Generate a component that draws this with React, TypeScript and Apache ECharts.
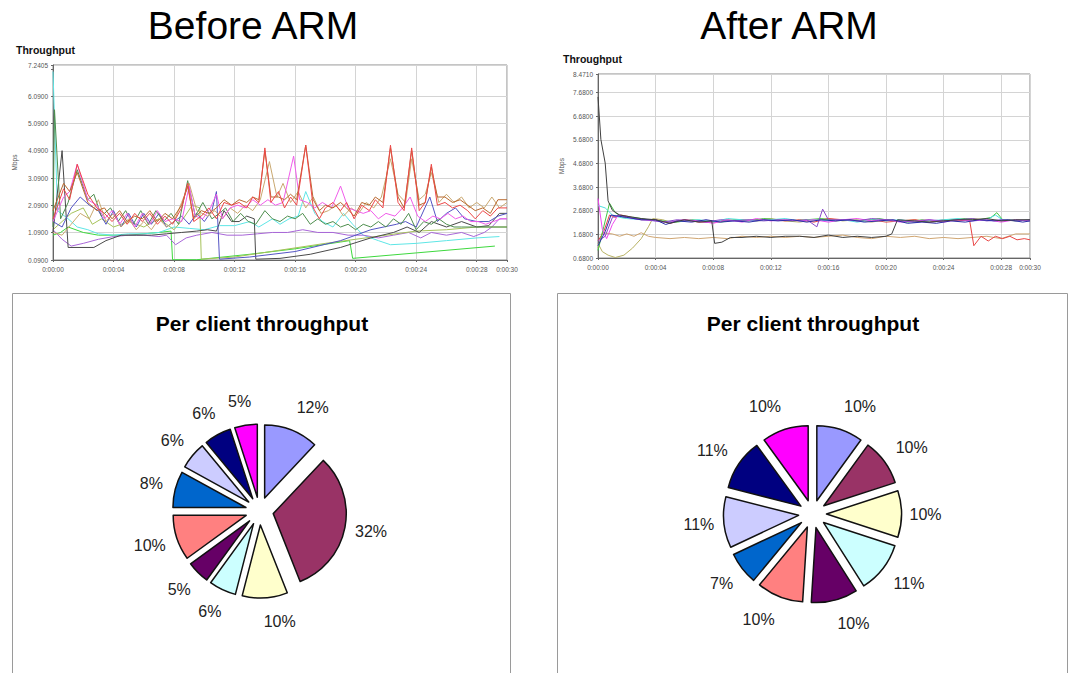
import React, { useEffect, useRef } from "react";
import * as echarts from "echarts";

// ---------- tick labels ----------
const X_TICKS_LABEL = (v: number) => `0:00:${String(Math.round(v)).padStart(2, "0")}`;
const LEFT_Y_BASE = 0.09;
const LEFT_Y_TOP = 7.2405;
const RIGHT_Y_BASE = 0.68;
const RIGHT_Y_TOP = 8.471;

// ---------- Before ARM (time s, Mbps) ----------
const L_RED = [[0,1.6],[0.7,2.7],[1.1,2.3],[1.6,3.6],[2.3,2.5],[2.9,2.0],[3.4,1.8],[3.9,1.5],[4.4,1.8],[4.9,1.4],[5.4,1.8],[5.9,1.5],[6.4,1.8],[6.9,1.4],[7.4,1.7],[7.9,1.4],[8.5,2.0],[8.9,2.9],[9.3,1.5],[9.8,1.7],[10.3,2.0],[10.8,1.6],[11.3,2.2],[11.8,2.1],[12.3,2.2],[12.8,2.0],[13.2,2.4],[13.6,2.2],[14.0,4.2],[14.4,2.2],[14.9,2.6],[15.3,2.0],[15.7,2.4],[16.1,2.1],[16.7,4.3],[17.2,2.0],[17.6,1.6],[18.0,2.0],[18.5,2.2],[19.0,1.9],[19.4,2.2],[19.9,1.6],[20.4,2.1],[20.9,1.9],[21.3,2.3],[21.8,2.0],[22.3,4.3],[22.8,2.2],[23.2,1.9],[23.7,4.2],[24.2,1.9],[24.6,2.2],[25.0,3.6],[25.4,2.1],[25.9,2.2],[26.4,2.0],[26.9,2.1],[27.4,1.9],[27.9,1.6],[28.4,1.9],[28.9,1.7],[29.4,2.0],[30,2.0]];
const L_BROWN = [[0,1.9],[0.7,2.9],[1.1,2.6],[1.6,3.3],[2.3,2.2],[2.9,1.9],[3.4,2.0],[3.9,1.6],[4.4,1.9],[4.9,1.5],[5.4,1.7],[5.9,1.6],[6.4,1.9],[6.9,1.5],[7.4,1.8],[7.9,1.6],[8.5,2.1],[8.9,2.8],[9.3,1.6],[9.8,1.9],[10.3,1.8],[10.8,2.0],[11.3,2.3],[11.8,2.1],[12.3,2.3],[12.8,2.2],[13.2,2.4],[13.6,2.3],[14.0,4.1],[14.4,2.4],[14.9,2.4],[15.3,2.3],[15.7,2.5],[16.1,2.3],[16.7,4.3],[17.2,2.3],[17.6,1.9],[18.0,2.1],[18.5,2.0],[19.0,2.2],[19.4,2.0],[19.9,1.7],[20.4,2.2],[20.9,2.1],[21.3,2.4],[21.8,2.2],[22.3,4.2],[22.8,2.4],[23.2,2.0],[23.7,4.1],[24.2,2.1],[24.6,2.2],[25.0,3.5],[25.4,2.4],[25.9,2.4],[26.4,2.2],[26.9,2.3],[27.4,2.1],[27.9,1.9],[28.4,2.0],[28.9,1.8],[29.4,2.3],[30,2.3]];
const L_MAGENTA = [[0,1.5],[0.7,2.4],[1.1,2.6],[1.6,3.6],[2.3,2.3],[2.9,2.1],[3.4,1.6],[3.9,1.9],[4.4,1.4],[4.9,1.8],[5.4,1.3],[5.9,1.8],[6.4,1.4],[6.9,1.9],[7.4,1.5],[7.9,1.6],[8.5,1.5],[9.0,2.8],[9.4,1.7],[9.9,1.6],[10.4,2.0],[10.8,2.5],[11.2,1.6],[11.7,2.0],[12.2,2.1],[12.7,2.0],[13.2,2.3],[13.7,2.1],[14.2,2.3],[14.7,2.1],[15.2,2.2],[15.9,3.9],[16.3,2.3],[16.8,2.2],[17.3,2.0],[17.8,2.2],[18.4,2.0],[19.0,2.8],[19.5,2.0],[20.0,1.9],[20.5,1.8],[21.0,1.9],[21.5,1.6],[22.0,1.8],[22.6,1.7],[23.1,2.0],[23.6,2.4],[24.1,1.7],[24.6,1.5],[25.1,1.7],[25.6,1.6],[26.1,1.8],[26.6,1.6],[27.1,1.7],[27.6,1.5],[28.1,1.5],[28.6,1.4],[29.1,1.5],[29.6,1.6],[30,1.6]];
const L_TAN = [[0,1.1],[0.6,1.0],[1.2,1.4],[1.8,1.8],[2.4,1.6],[3.0,2.3],[3.5,1.5],[4.0,1.8],[4.5,1.3],[5.0,1.6],[5.5,1.2],[6.0,1.5],[6.5,1.2],[7.0,1.6],[7.5,1.3],[8.0,1.5],[8.5,2.2],[9.0,2.9],[9.5,1.9],[10.2,1.7],[10.7,1.9],[11.2,1.6],[11.7,2.0],[12.2,1.8],[12.7,2.1],[13.2,1.9],[13.7,2.3],[14.3,3.7],[14.8,2.4],[15.2,2.9],[15.7,2.2],[16.2,2.6],[16.7,2.0],[17.2,2.4],[17.7,1.8],[18.2,1.9],[18.7,2.1],[19.2,1.7],[19.7,2.0],[20.2,1.8],[20.7,2.2],[21.2,2.0],[21.7,2.4],[22.3,3.8],[22.8,2.5],[23.3,2.2],[23.7,3.8],[24.2,2.3],[24.6,2.5],[25.0,3.3],[25.5,2.2],[26.0,2.5],[26.5,2.2],[27.0,2.4],[27.5,2.0],[28.0,2.2],[28.5,2.0],[29.0,2.4],[29.5,2.0],[30,2.2]];
const L_LIME = [[0,1.2],[0.6,1.5],[1.2,1.8],[2,2.0],[2.6,1.4],[3.2,1.6],[4,1.3],[5,1.5],[6,1.3],[7,1.6],[8,1.2],[8.6,1.6],[9.2,2.1],[9.7,2.0],[9.8,0.12],[12,0.2],[15,0.45],[18,0.7],[20,0.85],[22,1.0],[24,1.15],[26,1.2],[28,1.3],[30,1.3]];
const L_OLIVE = [[0,1.3],[0.1,5.6],[0.5,1.6],[1.0,2.2],[1.6,3.4],[2.3,2.3],[2.7,2.5],[3.2,1.7],[3.8,2.0],[4.3,1.5],[4.8,1.9],[5.3,1.4],[5.8,1.9],[6.3,1.4],[6.8,1.9],[7.3,1.5],[7.8,1.8],[8.3,1.4],[8.9,3.0],[9.4,1.7],[9.9,2.2],[10.5,1.6],[11.0,1.8],[11.4,2.0],[11.9,1.5],[12.4,1.8],[12.9,1.5],[13.4,1.4],[14.0,1.9],[14.5,1.6],[15.0,1.5],[15.5,1.7],[16.0,1.6],[16.5,1.8],[17.0,1.4],[17.5,1.6],[18.0,1.4],[18.5,1.5],[19.0,1.3],[19.5,1.4],[20.0,1.2],[20.5,1.4],[21,1.3],[21.5,1.5],[22,1.3],[22.5,1.6],[23,1.4],[23.5,1.8],[24,1.2],[24.5,1.5],[25,1.4],[25.5,1.6],[26,1.4],[26.5,1.3],[27,1.3],[28,1.3],[29,1.3],[30,1.3]];
const L_DKGRAY = [[0,1.1],[0.6,4.1],[1.0,0.55],[2.7,0.55],[3.5,0.8],[4.5,1.0],[5.5,1.0],[6.5,1.0],[7.5,1.05],[8.5,1.1],[9.5,1.15],[10.2,1.2],[10.8,1.15],[11.3,1.9],[11.8,1.5],[12.3,1.5],[12.8,1.7],[13.3,1.6],[13.4,0.12],[15,0.15],[17,0.3],[19,0.55],[21,0.9],[22.5,1.1],[23.4,1.3],[24.2,1.1],[25,1.5],[26,1.3],[27,1.5],[28,1.3],[28.8,1.35],[29.5,1.8],[30,1.8]];
const L_PURPLE = [[0,1.2],[0.6,0.85],[1.2,0.6],[2,0.7],[3,0.85],[4,0.95],[5,1.0],[6,1.0],[7,0.95],[7.5,1.0],[8.1,0.65],[8.8,0.9],[9.5,1.0],[10.5,1.1],[11.5,1.0],[12.5,1.0],[13.5,1.05],[14.5,1.1],[15.5,1.1],[16.5,1.2],[17.5,1.1],[18.5,1.1],[19.5,1.0],[20.5,1.0],[21.5,0.9],[22.5,1.0],[23.5,1.1],[24.3,0.9],[25,1.1],[26,1.0],[27,1.1],[27.8,0.95],[28.5,1.1],[29,1.3],[29.5,1.6],[30,1.6]];
const L_BLUE = [[0,1.5],[0.6,1.3],[1.2,2.0],[1.8,2.4],[2.4,2.1],[3.0,1.9],[3.5,1.4],[4.0,1.9],[4.5,1.3],[5.0,1.8],[5.5,1.3],[6.0,1.8],[6.5,1.4],[7.0,1.8],[7.5,1.3],[8.0,1.5],[8.5,1.7],[9.0,1.4],[9.5,1.8],[10.0,1.5],[10.5,1.9],[10.8,2.6],[11.0,0.12],[13,0.2],[16,0.4],[19,0.8],[21,1.2],[22.7,1.4],[23.3,1.5],[24,1.3],[24.9,2.4],[25.4,1.5],[26,1.8],[26.6,2.0],[27.2,1.6],[28,1.5],[28.8,1.5],[29.4,1.7],[30,1.8]];
const L_CYAN = [[0,7.0],[0.3,1.9],[1,1.6],[1.6,1.3],[2.3,1.2],[3,1.05],[4,1.0],[5,1.05],[6,1.05],[7,1.1],[8,1.3],[9,1.25],[10,1.2],[11,1.35],[12,1.35],[13,1.5],[13.6,1.3],[14.5,1.6],[15,1.4],[15.6,1.6],[16.2,1.7],[16.7,2.6],[17.3,1.8],[17.8,1.5],[18.5,1.3],[19.2,1.8],[19.8,1.4],[20.5,1.0],[21.5,0.8],[22.3,0.65],[24,0.7],[26,0.8],[28,0.9],[29.5,0.95]];
const L_GREEN = [[0,1.0],[0.5,1.1],[1,1.3],[2,1.1],[3,1.0],[4,1.0],[5,1.0],[6,1.05],[7,1.1],[7.8,1.15],[7.9,0.1],[9.5,0.1],[13,0.3],[16,0.5],[19,0.75],[19.6,0.8],[19.8,0.15],[24,0.35],[29.2,0.6]];

// ---------- After ARM (time s, Mbps) ----------
const R_DKGRAY = [[0,7.5],[0.2,5.7],[0.5,4.7],[0.7,3.1],[1,2.7],[1.5,2.5],[2,2.45],[3,2.35],[4,2.3],[5,2.15],[6,2.3],[7,2.2],[7.9,2.25],[8.1,1.3],[8.6,1.35],[9.2,1.55],[10,1.55],[11,1.6],[12,1.55],[13,1.6],[14,1.6],[15,1.55],[16,1.65],[17,1.55],[18,1.6],[19,1.55],[20,1.6],[20.4,1.7],[20.8,2.3],[22,2.25],[23,2.2],[24,2.25],[25,2.3],[26,2.3],[27,2.35],[28,2.25],[29,2.3],[30,2.3]];
const R_TAN = [[0,1.1],[0.3,1.75],[1,1.7],[1.5,1.6],[2,1.7],[2.5,1.6],[3,1.75],[3.5,1.6],[4,1.55],[5,1.5],[6,1.55],[7,1.5],[8,1.55],[9,1.5],[10,1.6],[11,1.55],[12,1.6],[13,1.55],[14,1.6],[15,1.55],[16,1.6],[17,1.65],[18,1.55],[19,1.5],[20,1.6],[21,1.55],[22,1.6],[23,1.5],[24,1.55],[25,1.5],[26,1.55],[27,1.6],[28,1.5],[29,1.7],[30,1.7]];
const R_KHAKI = [[0,1.3],[0.3,0.95],[0.7,0.8],[1.2,0.7],[1.8,0.8],[2.4,1.1],[3.0,1.5],[3.5,2.0],[3.8,2.35],[4.5,2.3],[5,2.2],[6,2.3],[7,2.25],[8,2.2],[9,2.3],[10,2.25],[11,2.3],[12,2.35],[13,2.25],[14,2.2],[15,2.3],[16,2.35],[17,2.25],[18,2.3],[19,2.2],[20,2.3],[21,2.25],[22,2.3],[23,2.2],[24,2.25],[25,2.3],[26,2.35],[27,2.3],[28,2.25],[29,2.3],[30,2.25]];
const R_RED = [[0,1.4],[0.4,1.8],[0.8,2.5],[1.2,2.4],[1.6,2.5],[2,2.45],[3,2.3],[4,2.3],[5,2.15],[6,2.3],[7,2.2],[8,2.2],[9,2.25],[10,2.3],[11,2.25],[12,2.3],[13,2.25],[14,2.3],[15,2.2],[16,2.35],[17,2.3],[18,2.25],[19,2.3],[20,2.2],[21,2.25],[22,2.3],[23,2.2],[24,2.3],[25,2.25],[25.8,2.3],[26.1,1.2],[26.6,1.6],[27.1,1.4],[27.6,1.6],[28.1,1.5],[28.6,1.6],[29.1,1.45],[29.6,1.5],[30,1.45]];
const R_MAGENTA = [[0,3.2],[0.3,1.9],[0.6,1.5],[1,2.1],[1.4,2.5],[2,2.4],[3,2.3],[4,2.25],[5,2.2],[6,2.3],[7,2.25],[8,2.15],[9,2.3],[10,2.2],[11,2.35],[12,2.25],[13,2.3],[14,2.25],[15,2.3],[16,2.2],[17,2.3],[18,2.35],[19,2.25],[20,2.3],[21,2.2],[22,2.25],[23,2.3],[24,2.2],[25,2.3],[26,2.25],[27,2.3],[28,2.2],[29,2.3],[30,2.25]];
const R_CYAN = [[0,2.9],[0.5,2.8],[1,2.5],[1.5,2.4],[2,2.35],[3,2.3],[4,2.25],[5,2.2],[6,2.25],[7,2.3],[8,2.2],[9,2.35],[10,2.3],[11,2.25],[12,2.3],[13,2.35],[14,2.25],[15,2.3],[16,2.25],[17,2.3],[18,2.2],[19,2.3],[20,2.25],[21,2.3],[22,2.2],[23,2.25],[24,2.3],[25,2.35],[26,2.25],[27,2.3],[27.6,2.5],[28.2,2.25],[29,2.3],[30,2.25]];
const R_GREEN = [[0,1.0],[0.4,2.0],[0.8,3.0],[1.2,2.6],[1.7,2.4],[2.5,2.4],[3.5,2.3],[4.5,2.25],[5.5,2.2],[6.5,2.3],[7.5,2.25],[8.5,2.2],[9.5,2.3],[10.5,2.25],[11.5,2.35],[12.5,2.3],[13.5,2.25],[14.5,2.3],[15.5,2.35],[16.5,2.25],[17.5,2.3],[18.5,2.25],[19.5,2.35],[20.5,2.25],[21.5,2.2],[22.5,2.3],[23.5,2.25],[24.5,2.3],[25.5,2.35],[26.5,2.3],[27.3,2.4],[27.7,2.6],[28.1,2.3],[29,2.25],[30,2.3]];
const R_BLUE = [[0,1.2],[0.5,1.8],[0.9,2.5],[1.4,2.45],[2,2.4],[3,2.3],[4,2.3],[4.7,2.1],[5.5,2.25],[6.5,2.2],[7.5,2.3],[8.5,2.2],[9.5,2.25],[10.5,2.2],[11.5,2.3],[12.5,2.25],[13.5,2.3],[14.5,2.2],[15.5,2.3],[16.5,2.25],[17.5,2.3],[18.5,2.2],[19.5,2.25],[20.5,2.3],[21.5,2.15],[22.5,2.2],[23.5,2.15],[24.5,2.25],[25.5,2.2],[26.5,2.3],[27.5,2.25],[28.5,2.3],[29.5,2.2],[30,2.25]];
const R_PURPLE = [[0,1.4],[0.5,1.6],[1.0,2.4],[1.5,2.5],[2.5,2.35],[3.5,2.3],[4.5,2.2],[5.5,2.3],[6.5,2.25],[7.5,2.2],[8.5,2.3],[9.5,2.25],[10.5,2.3],[11.5,2.25],[12.5,2.3],[13.5,2.25],[14.5,2.3],[15.2,2.0],[15.6,2.75],[16,2.3],[17,2.3],[18,2.25],[19,2.35],[20,2.3],[21,2.25],[22,2.2],[23,2.3],[24,2.25],[25,2.3],[26,2.35],[27,2.25],[28,2.3],[29,2.25],[30,2.3]];

// ---------- pies ----------
const PIE_COLORS = ["#9999FF", "#993366", "#FFFFCC", "#CCFFFF", "#660066", "#FF8080", "#0066CC", "#CCCCFF", "#000080", "#FF00FF"];
const PIE_CLIENTS = ["Client 1", "Client 2", "Client 3", "Client 4", "Client 5", "Client 6", "Client 7", "Client 8", "Client 9", "Client 10"];
const BEFORE_SHARE = [12, 32, 10, 6, 5, 10, 8, 6, 6, 5];
const AFTER_SHARE = [10, 10, 10, 11, 10, 10, 7, 11, 11, 10];

const FONT = "'Liberation Sans', Arial, Helvetica, sans-serif";

const LEFT_LINES: [number[][], string][] = [
  [L_GREEN, "#3ED83E"], [L_CYAN, "#5EE6E6"], [L_PURPLE, "#A866D8"], [L_LIME, "#A6C25A"],
  [L_DKGRAY, "#4A4A4A"], [L_BLUE, "#5454C4"], [L_OLIVE, "#4E8E4E"], [L_TAN, "#C9A870"],
  [L_MAGENTA, "#F05CEA"], [L_BROWN, "#B8682E"], [L_RED, "#EC4848"],
];
const RIGHT_LINES: [number[][], string][] = [
  [R_TAN, "#D0A672"], [R_KHAKI, "#B8B264"], [R_RED, "#E84444"], [R_GREEN, "#44C844"],
  [R_CYAN, "#50E0E0"], [R_MAGENTA, "#F048F0"], [R_PURPLE, "#8A48C8"], [R_BLUE, "#2C2CA8"],
  [R_DKGRAY, "#404040"],
];

const PIE_OFFSET = 14;
const LABEL_GAP = 24;

function App() {
  const ref = useRef<HTMLDivElement>(null);
  useEffect(() => {
    const chart = echarts.init(ref.current!, null, { renderer: "svg" });
    const axisLabelStyle = { fontSize: 6.5, color: "#555", fontFamily: FONT };
    const xAxisCommon = (gridIndex: number) => ({
      type: "value", gridIndex, min: 0, max: 30, interval: 4,
      axisLine: { show: true, lineStyle: { color: "#666", width: 1 } },
      axisTick: { show: true, length: 2, lineStyle: { color: "#666" } },
      axisLabel: { ...axisLabelStyle, margin: 6, formatter: X_TICKS_LABEL },
      splitLine: { show: true, lineStyle: { color: "#d4d4d4", width: 1 } },
    });
    const leftSplitColors = ["#d4d4d4", "#d4d4d4", "#d4d4d4", "#d4d4d4", "#d4d4d4", "#d4d4d4", "#d4d4d4", "rgba(0,0,0,0)", "#d4d4d4"];
    const lineSeries = (list: [number[][], string][], xi: number, yi: number) =>
      list.map(([d, c]) => ({
        type: "line", xAxisIndex: xi, yAxisIndex: yi, data: d, symbol: "none", showSymbol: false,
        lineStyle: { color: c, width: 1 }, itemStyle: { color: c }, silent: true, clip: true,
      }));
    const pie = (cx: number, cy: number, r: number, shares: number[]) => {
      const total = shares.reduce((a, b) => a + b, 0);
      const cum: number[] = [];
      shares.reduce((acc, v) => { cum.push(acc + v / 2); return acc + v; }, 0);
      return {
        type: "pie", center: [cx, cy], radius: r, startAngle: 90, clockwise: true,
        selectedMode: "multiple", selectedOffset: PIE_OFFSET, silent: true,
        emphasis: { disabled: true },
        label: { show: true, position: "outside", formatter: "{c}%", fontSize: 16, color: "#222", fontFamily: FONT },
        labelLine: { show: false, length: 6, length2: 4 },
        labelLayout: (p: any) => {
          // label rect is reported before the slice's explode offset, which is added afterwards
          const a = (cum[p.dataIndex] / total) * Math.PI * 2;
          const sx = Math.sin(a);
          const sy = -Math.cos(a);
          const d = r + LABEL_GAP;
          const rc = p.labelRect;
          // wider labels near the top / bottom sit a little further out sideways
          const push = Math.sign(sx) * Math.abs(sy) * Math.max(0, rc.width - 21) * 1.2;
          const tx = cx + sx * d + push;
          const ty = cy + sy * d;
          return { dx: tx - (rc.x + rc.width / 2), dy: ty - (rc.y + rc.height / 2) };
        },
        itemStyle: { borderColor: "#111", borderWidth: 1.5 },
        select: { itemStyle: { borderColor: "#111", borderWidth: 1.5 } },
        data: shares.map((v, i) => ({ value: v, name: PIE_CLIENTS[i], selected: true, itemStyle: { color: PIE_COLORS[i] }, select: { itemStyle: { color: PIE_COLORS[i] } } })),
      };
    };
    chart.setOption({
      animation: false,
      backgroundColor: "#fff",
      textStyle: { fontFamily: FONT },
      grid: [
        { left: 53, top: 65, width: 454, height: 195, show: true, borderColor: "#8a8a8a", borderWidth: 1, backgroundColor: "#fff" },
        { left: 598, top: 74, width: 432, height: 184, show: true, borderColor: "#8a8a8a", borderWidth: 1, backgroundColor: "#fff" },
      ],
      xAxis: [xAxisCommon(0), xAxisCommon(1)],
      yAxis: [
        {
          type: "value", gridIndex: 0, min: 0, max: LEFT_Y_TOP - LEFT_Y_BASE, interval: 1,
          name: "Mbps", nameLocation: "middle", nameGap: 35, nameRotate: 90,
          nameTextStyle: { fontSize: 6.5, color: "#555", fontFamily: FONT },
          axisLine: { show: true, lineStyle: { color: "#666" } },
          axisTick: { show: true, length: 2, lineStyle: { color: "#666" } },
          axisLabel: { ...axisLabelStyle, margin: 5, formatter: (v: number) => (Math.abs(v - 7) < 1e-6 ? "" : (v + LEFT_Y_BASE).toFixed(4)) },
          splitLine: { show: true, lineStyle: { color: leftSplitColors, width: 1 } },
        },
        { type: "value", gridIndex: 0, min: LEFT_Y_BASE, max: LEFT_Y_TOP, show: false, splitLine: { show: false } },
        {
          type: "value", gridIndex: 1, min: 0, max: RIGHT_Y_TOP - RIGHT_Y_BASE, interval: 1,
          name: "Mbps", nameLocation: "middle", nameGap: 33, nameRotate: 90,
          nameTextStyle: { fontSize: 6.5, color: "#555", fontFamily: FONT },
          axisLine: { show: true, lineStyle: { color: "#666" } },
          axisTick: { show: true, length: 2, lineStyle: { color: "#666" } },
          axisLabel: { ...axisLabelStyle, margin: 5, formatter: (v: number) => (v + RIGHT_Y_BASE).toFixed(4) },
          splitLine: { show: true, lineStyle: { color: "#d4d4d4", width: 1 } },
        },
        { type: "value", gridIndex: 1, min: RIGHT_Y_BASE, max: RIGHT_Y_TOP, show: false, splitLine: { show: false } },
      ],
      graphic: [
        { type: "rect", silent: true, z: -1, shape: { x: 12.5, y: 293.5, width: 498, height: 420 }, style: { fill: "#fff", stroke: "#9a9a9a", lineWidth: 1 } },
        { type: "rect", silent: true, z: -1, shape: { x: 557.5, y: 293.5, width: 510, height: 420 }, style: { fill: "#fff", stroke: "#9a9a9a", lineWidth: 1 } },
        { type: "text", silent: true, style: { text: "Before ARM", x: 253, y: 25, align: "center", verticalAlign: "middle", font: `39px ${FONT}`, fill: "#000" } },
        { type: "text", silent: true, style: { text: "After ARM", x: 789, y: 25, align: "center", verticalAlign: "middle", font: `39px ${FONT}`, fill: "#000" } },
        { type: "text", silent: true, style: { text: "Throughput", x: 16, y: 50, align: "left", verticalAlign: "middle", font: `bold 10.5px ${FONT}`, fill: "#111" } },
        { type: "text", silent: true, style: { text: "Throughput", x: 563, y: 59, align: "left", verticalAlign: "middle", font: `bold 10.5px ${FONT}`, fill: "#111" } },
        { type: "text", silent: true, style: { text: "Per client throughput", x: 262, y: 323, align: "center", verticalAlign: "middle", font: `bold 21px ${FONT}`, fill: "#000" } },
        { type: "text", silent: true, style: { text: "Per client throughput", x: 813, y: 323, align: "center", verticalAlign: "middle", font: `bold 21px ${FONT}`, fill: "#000" } },
      ],
      series: [
        ...lineSeries(LEFT_LINES, 0, 1),
        ...lineSeries(RIGHT_LINES, 1, 3),
        pie(259.5, 511, 73, BEFORE_SHARE),
        pie(812.5, 514, 75, AFTER_SHARE),
      ],
    } as any);
    return () => chart.dispose();
  }, []);
  return <div ref={ref} style={{ position: "absolute", left: 0, top: 0, width: 1074, height: 673, background: "#fff" }} />;
}

export default App;
